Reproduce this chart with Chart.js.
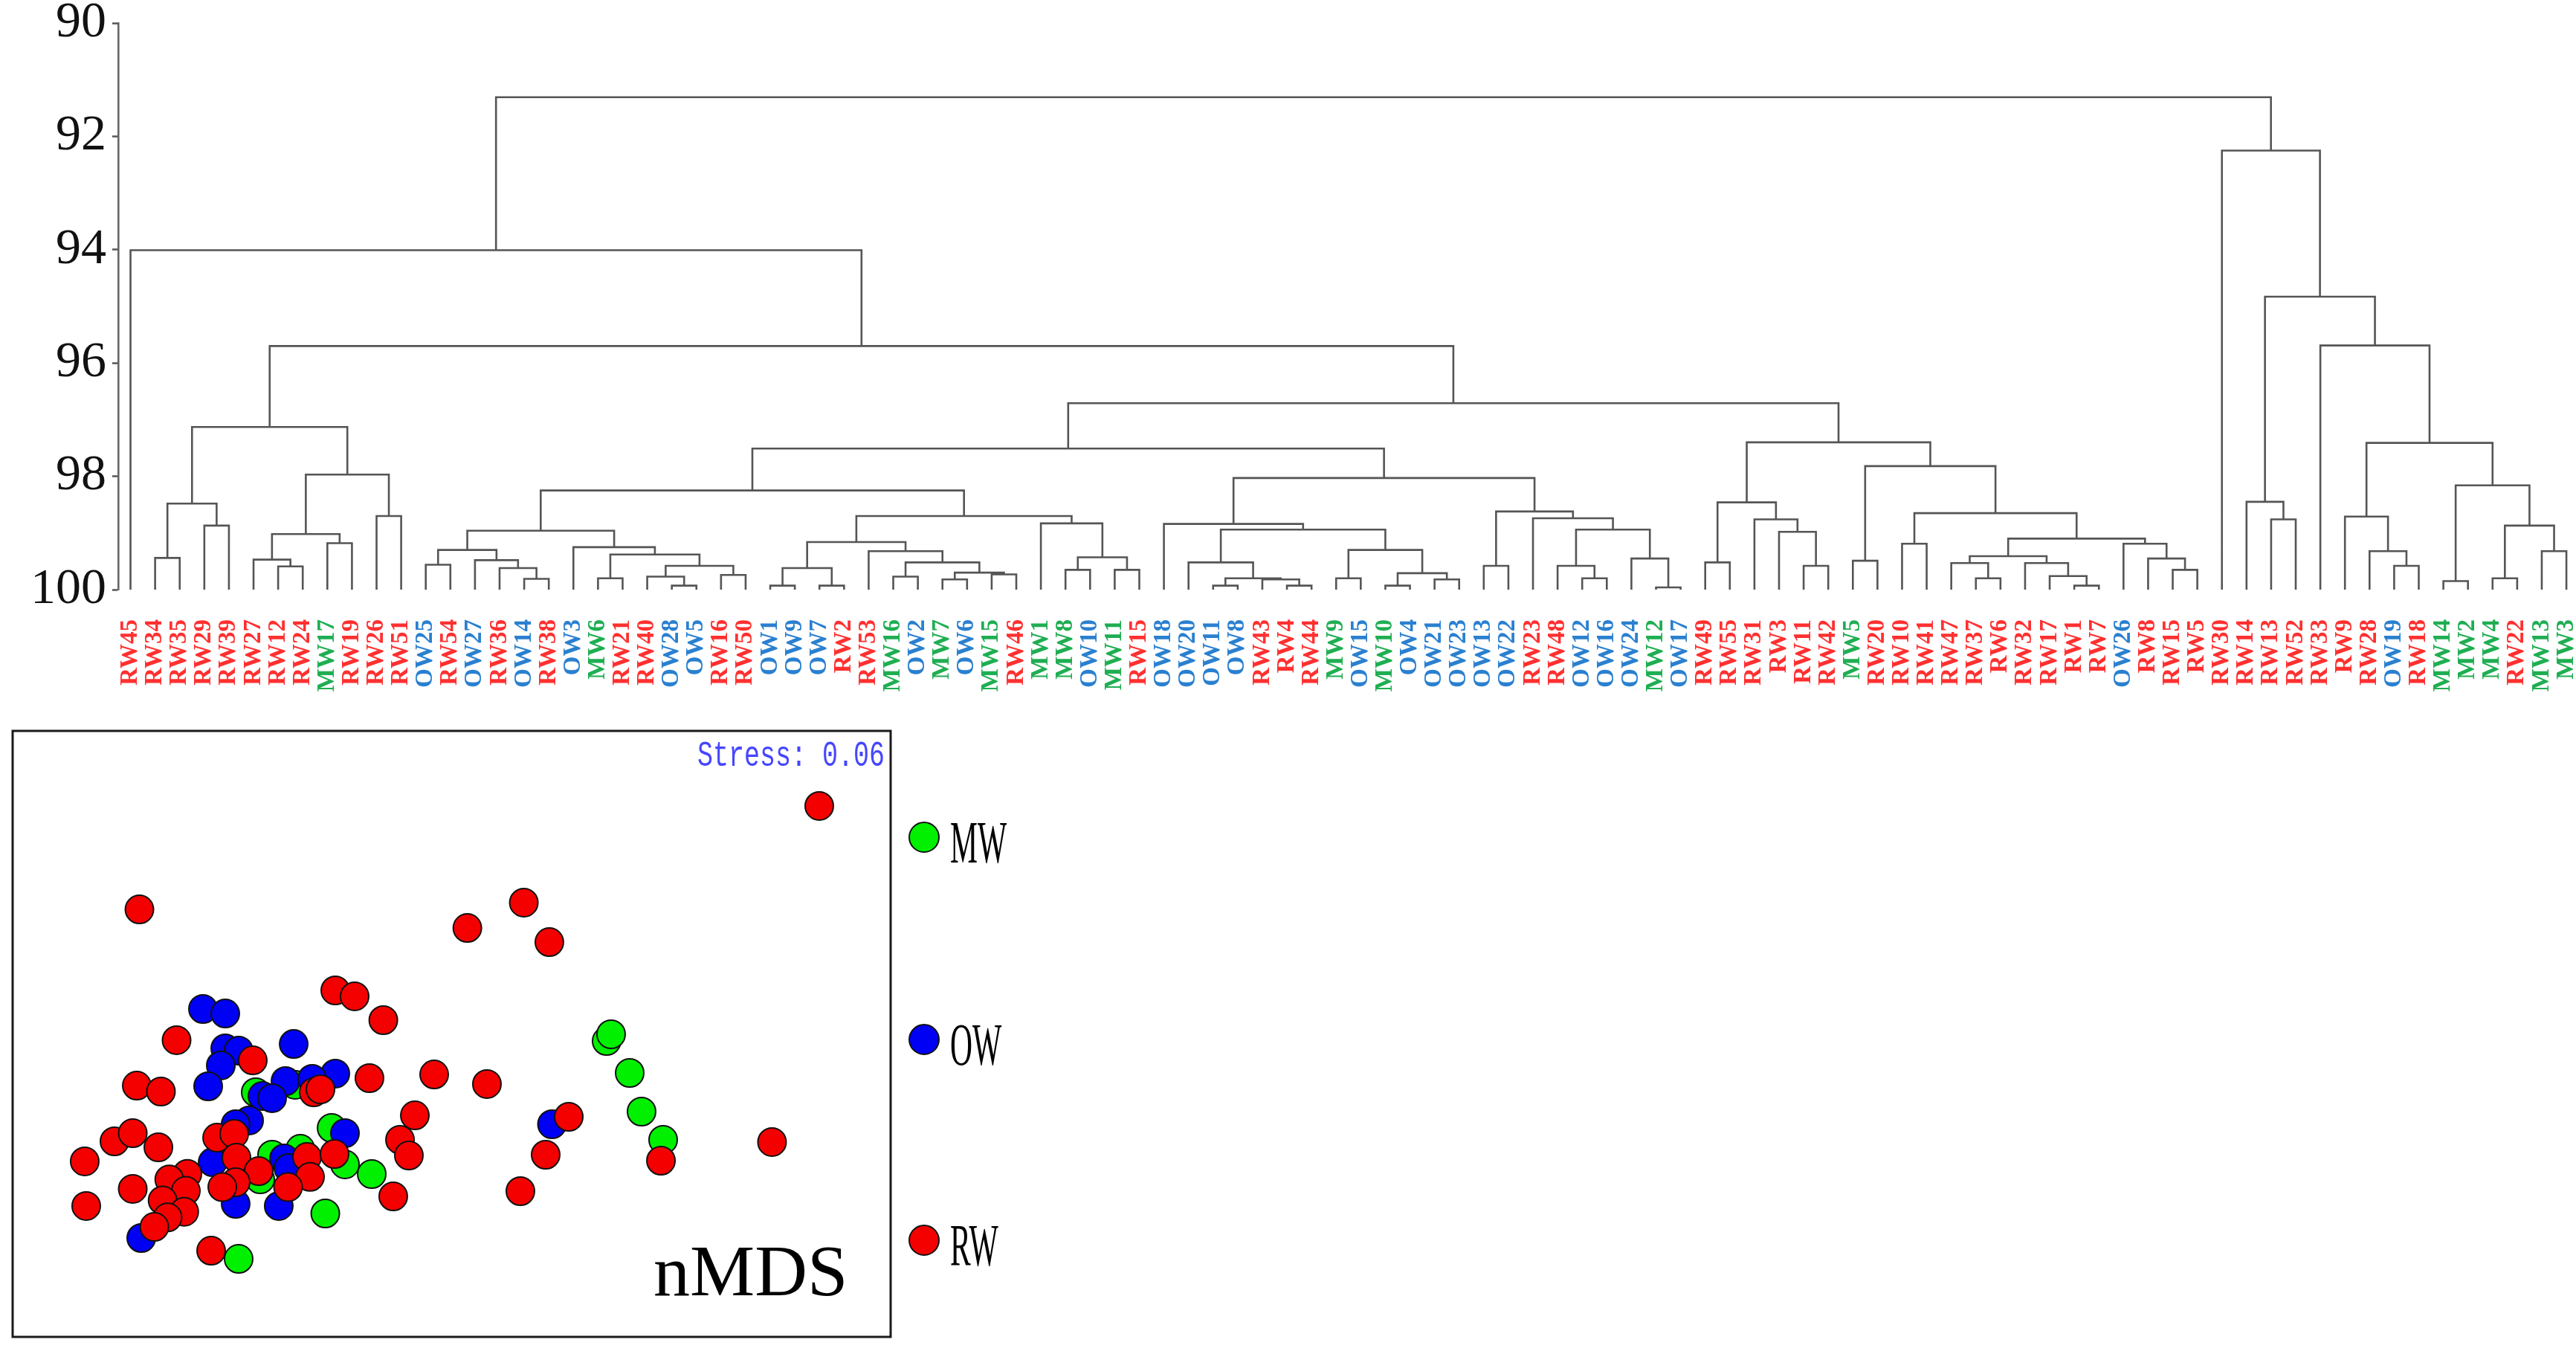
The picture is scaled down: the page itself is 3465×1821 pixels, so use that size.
<!DOCTYPE html>
<html><head><meta charset="utf-8">
<script src="https://cdn.jsdelivr.net/npm/chart.js@4.4.1/dist/chart.umd.min.js"></script>
<style>
html,body{margin:0;padding:0;background:#fff;width:3465px;height:1821px;overflow:hidden;position:relative}
#dendro{position:absolute;left:0;top:-50px}
#mds{position:absolute;left:0;top:960px}
</style></head><body>
<canvas id="dendro" width="3465" height="1100"></canvas>
<canvas id="mds" width="1465" height="861"></canvas>
<script>
// ---------- DATA ----------
const leafLabels = ['RW45','RW34','RW35','RW29','RW39','RW27','RW12','RW24','MW17','RW19',
 'RW26','RW51','OW25','RW54','OW27','RW36','OW14','RW38','OW3','MW6',
 'RW21','RW40','OW28','OW5','RW16','RW50','OW1','OW9','OW7','RW2',
 'RW53','MW16','OW2','MW7','OW6','MW15','RW46','MW1','MW8','OW10',
 'MW11','RW15','OW18','OW20','OW11','OW8','RW43','RW4','RW44','MW9',
 'OW15','MW10','OW4','OW21','OW23','OW13','OW22','RW23','RW48','OW12',
 'OW16','OW24','MW12','OW17','RW49','RW55','RW31','RW3','RW11','RW42',
 'MW5','RW20','RW10','RW41','RW47','RW37','RW6','RW32','RW17','RW1',
 'RW7','OW26','RW8','RW15','RW5','RW30','RW14','RW13','RW52','RW33',
 'RW9','RW28','OW19','RW18','MW14','MW2','MW4','RW22','MW13','MW3'];

// merges: [childA, childB, similarity]; numbers = leaf index, 'mK' = merge K
const links = [
 [1,2,99.44],[3,4,98.87],['m0','m1',98.48],[6,7,99.59],[5,'m3',99.47],
 [8,9,99.18],['m4','m5',99.02],[10,11,98.70],['m6','m7',97.97],['m2','m8',97.13],
 [12,13,99.56],[16,17,99.81],[15,'m11',99.62],[14,'m12',99.48],['m10','m13',99.30],
 [19,20,99.80],[22,23,99.93],[21,'m16',99.77],[24,25,99.74],['m17','m18',99.58],
 ['m15','m19',99.38],[18,'m20',99.25],['m14','m21',98.96],[26,27,99.93],[28,29,99.93],
 ['m23','m24',99.62],[31,32,99.77],[33,34,99.82],[35,36,99.73],['m27','m28',99.70],
 ['m26','m29',99.52],[30,'m30',99.32],['m25','m31',99.16],[38,39,99.65],[40,41,99.65],
 ['m33','m34',99.43],[37,'m35',98.83],['m32','m36',98.70],['m22','m37',98.25],[44,45,99.93],
 [47,48,99.93],[46,'m40',99.82],['m39','m41',99.80],[43,'m42',99.52],[49,50,99.80],
 [51,52,99.93],[53,54,99.82],['m45','m46',99.71],['m44','m47',99.30],['m43','m48',98.94],
 [42,'m49',98.84],[55,56,99.58],[59,60,99.80],[58,'m52',99.58],[62,63,99.96],
 [61,'m54',99.45],['m53','m55',98.94],[57,'m56',98.74],['m51','m57',98.62],['m50','m58',98.03],
 ['m38','m59',97.51],[64,65,99.52],[68,69,99.58],[67,'m62',98.98],[66,'m63',98.76],
 ['m61','m64',98.46],[70,71,99.49],[72,73,99.19],[75,76,99.80],[74,'m68',99.53],
 [79,80,99.93],[78,'m70',99.76],[77,'m71',99.53],['m69','m72',99.41],[83,84,99.65],
 [82,'m74',99.45],[81,'m75',99.19],['m73','m76',99.10],['m67','m77',98.65],['m66','m78',97.82],
 ['m65','m79',97.40],['m60','m80',96.71],['m9','m81',95.70],[0,'m82',94.01],[87,88,98.76],
 [86,'m84',98.45],[92,93,99.58],[91,'m86',99.32],[90,'m87',98.71],[94,95,99.85],
 [96,97,99.80],[98,99,99.32],['m90','m91',98.87],['m89','m92',98.16],['m88','m93',97.41],
 [89,'m94',95.69],['m85','m95',94.83],[85,'m96',92.25],['m83','m97',91.31]
];
const yTicks = [90,92,94,96,98,100];

const mwPoints = [[36.33,34.48],[37.85,28.47],[40.90,26.87],[35.61,20.37],[25.74,12.88],[29.55,30.06],
 [32.77,31.04],[28.20,26.01],[32.18,41.60],[27.69,40.37],[67.65,48.83],[68.16,49.94],[70.28,43.56],
 [71.63,37.18],[74.09,32.52]];
const owPoints = [[21.68,54.11],[24.22,53.37],[24.22,47.61],[25.74,47.24],[23.71,44.79],[22.27,41.35],
 [32.01,48.34],[31.08,42.21],[28.45,39.75],[29.55,39.39],[36.75,43.44],[34.12,42.58],[26.93,35.71],
 [25.40,35.09],[37.85,33.62],[22.78,28.83],[30.91,29.45],[31.41,27.85],[25.40,21.96],[30.31,21.60],
 [14.65,16.32],[61.43,35.09]];
const rwPoints = [[14.44,70.55],[51.79,67.48],[36.75,57.18],[38.95,56.20],[42.22,52.27],[18.67,48.96],
 [27.35,45.64],[14.14,41.47],[16.89,40.49],[40.64,42.70],[48.01,43.31],[54.02,41.72],[34.29,40.37],
 [35.06,40.86],[45.81,36.56],[11.60,32.27],[13.68,33.62],[16.60,31.29],[23.29,32.88],[25.23,33.50],
 [44.12,32.52],[45.13,29.94],[8.21,28.96],[25.49,29.57],[33.53,29.69],[36.66,30.18],[19.90,26.91],
 [17.84,25.98],[19.73,24.10],[17.08,22.53],[19.54,20.65],[17.65,19.72],[16.14,18.15],[28.03,27.36],
 [25.40,25.52],[23.88,24.72],[33.87,26.40],[31.37,24.72],[13.68,24.42],[8.38,21.60],[43.35,23.19],
 [22.61,14.23],[91.87,87.61],[58.22,71.66],[61.13,65.15],[63.34,36.32],[60.71,30.06],[57.83,24.05],
 [73.84,29.08],[86.49,32.15]];
const groupOrder = ['MW','OW','RW'];
const stressText = 'Stress: 0.06';
const panelTitle = 'nMDS';

// ---------- STYLES ----------
const labelColors = {RW:'#ff3030', OW:'#2a80d0', MW:'#1fae52'};
const pointColors = {MW:'#00f000', OW:'#0000f5', RW:'#f50000'};

// ---------- DENDROGRAM ----------
const nodeX = [], nodeH = [];
function ref(r){
  if (typeof r === 'number') return {x:r, h:100};
  const k = +r.slice(1); return {x:nodeX[k], h:nodeH[k]};
}
const segs = [];
links.forEach(([a,b,h],k)=>{
  const A = ref(a), B = ref(b);
  nodeX[k] = (A.x + B.x)/2; nodeH[k] = h;
  segs.push({x:A.x,y:A.h},{x:A.x,y:h},{x:B.x,y:h},{x:B.x,y:B.h},{x:B.x,y:null});
});

const leafLabelPlugin = {
  id:'leafLabels',
  afterDraw(chart){
    const {ctx, chartArea, scales} = chart;
    const top = chartArea.bottom + 40;
    ctx.save();
    ctx.font = 'bold 33px "Liberation Serif"';
    ctx.textAlign = 'right';
    ctx.textBaseline = 'middle';
    leafLabels.forEach((lab,i)=>{
      const px = scales.x.getPixelForValue(i);
      ctx.save();
      ctx.translate(px, top);
      ctx.rotate(-Math.PI/2);
      ctx.fillStyle = labelColors[lab.slice(0,2)];
      ctx.fillText(lab, 0, 0);
      ctx.restore();
    });
    ctx.restore();
  }
};

new Chart(document.getElementById('dendro'), {
  type:'line',
  data:{datasets:[{data:segs, borderColor:'#555', borderWidth:2.6, pointRadius:0,
    tension:0, spanGaps:false, fill:false, borderJoinStyle:'miter'}]},
  options:{
    responsive:false, devicePixelRatio:1, animation:false,
    layout:{padding:{left:0, top:81, right:3, bottom:257}},
    plugins:{legend:{display:false}, tooltip:{enabled:false}},
    scales:{
      x:{type:'linear', min:-0.5, max:99.3, display:false},
      y:{type:'linear', min:90, max:100, reverse:true,
        afterFit(s){ s.width = 159; },
        afterBuildTicks(s){ s.ticks = yTicks.map(v=>({value:v})); },
        ticks:{font:{family:'Liberation Serif', size:68}, color:'#111', padding:8},
        grid:{display:true, drawOnChartArea:false, drawTicks:true, tickLength:8,
              tickColor:'#555', tickWidth:2.5, color:'#555'},
        border:{display:true, color:'#666', width:2.6}
      }
    }
  },
  plugins:[leafLabelPlugin]
});

// ---------- nMDS ----------
const toXY = arr => arr.map(([x,y])=>({x,y}));
const groupData = {MW:mwPoints, OW:owPoints, RW:rwPoints};
const orderRank = {RW:1, OW:2, MW:3};

const mdsDecor = {
  id:'mdsDecor',
  afterDraw(chart){
    const {ctx, chartArea:ca} = chart;
    ctx.save();
    ctx.strokeStyle = '#1a1a1a'; ctx.lineWidth = 3;
    ctx.strokeRect(ca.left, ca.top, ca.right-ca.left, ca.bottom-ca.top);
    // stress
    ctx.save();
    ctx.translate(ca.right - 8, ca.top + 47);
    ctx.scale(1, 1.4);
    ctx.font = '35px "Liberation Mono"';
    ctx.fillStyle = '#4646ff';
    ctx.textAlign = 'right'; ctx.textBaseline = 'alphabetic';
    ctx.fillText(stressText, 0, 0);
    ctx.restore();
    // title
    ctx.font = '98px "Liberation Serif"';
    ctx.fillStyle = '#000';
    ctx.textAlign = 'left'; ctx.textBaseline = 'alphabetic';
    ctx.fillText(panelTitle, ca.left + 862, ca.bottom - 56);
    // legend
    const offs = [143, 415, 685];
    groupOrder.forEach((g,i)=>{
      const ds = chart.data.datasets.find(d=>d.label===g);
      const cx = ca.right + 45, cy = ca.top + offs[i];
      ctx.beginPath(); ctx.arc(cx, cy, 20, 0, Math.PI*2);
      ctx.fillStyle = ds.backgroundColor; ctx.fill();
      ctx.lineWidth = 2; ctx.strokeStyle = '#111'; ctx.stroke();
      ctx.save();
      ctx.translate(ca.right + 80, cy + 34);
      ctx.scale(0.52, 1);
      ctx.font = '80px "Liberation Serif"';
      ctx.fillStyle = '#000';
      ctx.textAlign = 'left'; ctx.textBaseline = 'alphabetic';
      ctx.fillText(g, 0, 0);
      ctx.restore();
    });
    ctx.restore();
  }
};

new Chart(document.getElementById('mds'), {
  type:'scatter',
  data:{datasets: groupOrder.map(g=>({
    label:g, data:toXY(groupData[g]), backgroundColor:pointColors[g],
    borderColor:'#111', borderWidth:2, pointRadius:19, pointHoverRadius:19,
    order:orderRank[g], clip:false
  }))},
  options:{
    responsive:false, devicePixelRatio:1, animation:false,
    layout:{padding:{left:17, top:23, right:267, bottom:23}, autoPadding:false},
    plugins:{legend:{display:false}, tooltip:{enabled:false}},
    scales:{
      x:{type:'linear', min:0, max:100, display:false},
      y:{type:'linear', min:0, max:100, display:false}
    }
  },
  plugins:[mdsDecor]
});
</script>
</body></html>
